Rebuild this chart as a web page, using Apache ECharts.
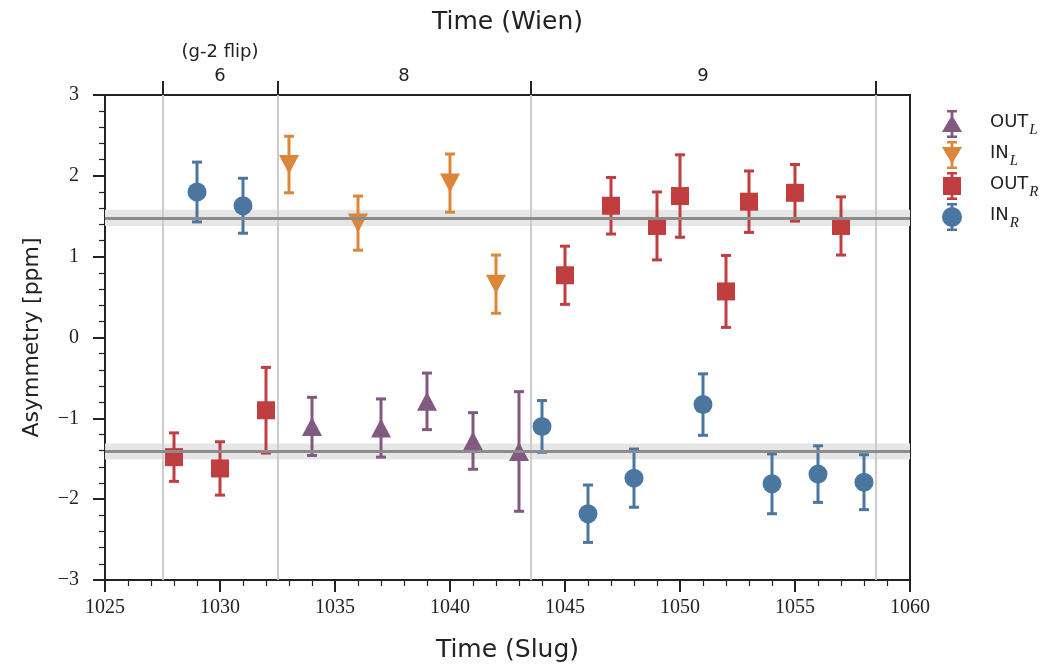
<!DOCTYPE html>
<html>
<head>
<meta charset="utf-8">
<script src="https://cdn.jsdelivr.net/npm/echarts@6/dist/echarts.min.js"></script>
<style>
  html, body { margin: 0; padding: 0; background: #fff; }
  #chart { width: 1057px; height: 669px; }
</style>
</head>
<body>
<div id="chart"></div>
<script>
// run numbers (Slug) and asymmetries in ppm
var outL_x = [1034, 1037, 1039, 1041, 1043];
var outL_y = [-1.10, -1.12, -0.79, -1.28, -1.41];
var outL_err = [0.36, 0.36, 0.35, 0.35, 0.74];

var inL_x = [1033, 1036, 1040, 1042];
var inL_y = [2.14, 1.415, 1.91, 0.66];
var inL_err = [0.35, 0.335, 0.36, 0.36];

var outR_x = [1028, 1030, 1032, 1045, 1047, 1049, 1050, 1052, 1053, 1055, 1057];
var outR_y = [-1.48, -1.62, -0.90, 0.77, 1.63, 1.38, 1.75, 0.57, 1.68, 1.79, 1.38];
var outR_err = [0.30, 0.33, 0.53, 0.36, 0.35, 0.42, 0.51, 0.445, 0.38, 0.35, 0.36];

var inR_x = [1029, 1031, 1044, 1046, 1048, 1051, 1054, 1056, 1058];
var inR_y = [1.80, 1.63, -1.10, -2.18, -1.74, -0.83, -1.81, -1.69, -1.79];
var inR_err = [0.37, 0.34, 0.32, 0.355, 0.36, 0.38, 0.37, 0.35, 0.34];

// fitted means and their bands
var means = [1.48, -1.41];
var meanErr = [0.1, 0.1];

// Wien periods on the top axis
var wienEdges = [1027.5, 1032.5, 1043.5, 1058.5];
var wienCenters = [1030, 1038, 1051];
var wienLabels = ['6', '8', '9'];
var wienNotes = ['(g-2 flip)', '', ''];

var colors = {
    outL: '#82597f',
    inL: '#db8639',
    outR: '#c03e3f',
    inR: '#4a76a0'
};

var serif = 'Liberation Serif';
var sans = 'DejaVu Sans';

function pts(xs, ys) {
    return xs.map(function (x, i) { return [x, ys[i]]; });
}
function bars(xs, ys, es) {
    return xs.map(function (x, i) { return [x, ys[i] - es[i], ys[i] + es[i]]; });
}
function minus(v) {
    return String(v).replace('-', '\u2212');
}

function renderErr(params, api) {
    var x = api.value(0);
    var lo = api.coord([x, api.value(1)]);
    var hi = api.coord([x, api.value(2)]);
    var c = api.visual('color');
    var w = 5;
    var st = { stroke: c, lineWidth: 3 };
    return {
        type: 'group',
        children: [
            { type: 'line', shape: { x1: lo[0], y1: lo[1], x2: hi[0], y2: hi[1] }, style: st },
            { type: 'line', shape: { x1: lo[0] - w, y1: lo[1], x2: lo[0] + w, y2: lo[1] }, style: st },
            { type: 'line', shape: { x1: hi[0] - w, y1: hi[1], x2: hi[0] + w, y2: hi[1] }, style: st }
        ]
    };
}

function errSeries(name, data, color) {
    return {
        name: name,
        type: 'custom',
        renderItem: renderErr,
        data: data,
        itemStyle: { color: color },
        encode: { x: 0, y: [1, 2] },
        z: 3,
        silent: true
    };
}
function markSeries(name, data, color, symbol, size) {
    return {
        name: name,
        type: 'scatter',
        data: data,
        symbol: symbol,
        symbolSize: size,
        itemStyle: { color: color, opacity: 1 },
        z: 4
    };
}

// legend icons: marker with a small error bar through it
var barPath = 'M5,0 H15 V2.5 H5 Z M8.6,0 H11.4 V28 H8.6 Z M5,25.5 H15 V28 H5 Z ';
var icons = {
    'OUT_L': 'path://' + barPath + 'M10,5 L20,22 L0,22 Z',
    'IN_L': 'path://' + barPath + 'M0,6 L20,6 L10,23 Z',
    'OUT_R': 'path://' + barPath + 'M1,5 H19 V23 H1 Z',
    'IN_R': 'path://' + barPath + 'M0,14 A10,10 0 1,1 20,14 A10,10 0 1,1 0,14 Z'
};

var bgLines = [];
wienEdges.forEach(function (v) { bgLines.push({ xAxis: v, lineStyle: { color: '#cccccc', width: 2, type: 'solid' } }); });
means.forEach(function (v) { bgLines.push({ yAxis: v, lineStyle: { color: '#8c8c8c', width: 3, type: 'solid' } }); });

var bgAreas = means.map(function (v, i) {
    return [{ yAxis: v - meanErr[i] }, { yAxis: v + meanErr[i] }];
});

var option = {
    backgroundColor: '#fff',
    animation: false,
    grid: {
        left: 105, right: 147, top: 95, bottom: 89,
        show: true, borderColor: '#222', borderWidth: 2
    },
    legend: {
        orient: 'vertical',
        left: 937,
        top: 105,
        itemWidth: 20,
        itemHeight: 28,
        itemGap: 3,
        data: ['OUT_L', 'IN_L', 'OUT_R', 'IN_R'].map(function (n) {
            return { name: n, icon: icons[n] };
        }),
        formatter: function (name) {
            var p = name.split('_');
            return '{m|' + p[0] + '}{s|' + p[1] + '}';
        },
        textStyle: {
            color: '#222',
            rich: {
                m: { fontFamily: sans, fontSize: 18, padding: [0, 0, 4, 23] },
                s: { fontFamily: serif, fontStyle: 'italic', fontSize: 15, padding: [12, 0, 0, 1] }
            }
        }
    },
    xAxis: [{
        type: 'value',
        position: 'bottom',
        min: 1025, max: 1060, interval: 5,
        name: 'Time (Slug)',
        nameLocation: 'middle',
        nameGap: 58,
        nameTextStyle: { fontFamily: sans, fontSize: 25, color: '#222' },
        axisLine: { show: true, onZero: false, lineStyle: { color: '#222', width: 2 } },
        axisTick: { show: true, length: 12, lineStyle: { color: '#222', width: 2 } },
        minorTick: { show: true, splitNumber: 5, length: 6, lineStyle: { color: '#222', width: 1.2 } },
        axisLabel: {
            margin: 18, fontFamily: serif, fontSize: 20, color: '#222',
            formatter: function (v) { return String(v); }
        },
        splitLine: { show: false }
    }, {
        type: 'value',
        position: 'top',
        min: 1025, max: 1060,
        name: 'Time (Wien)',
        nameLocation: 'middle',
        nameGap: 60,
        nameTextStyle: { fontFamily: sans, fontSize: 25, color: '#222' },
        axisLine: { show: true, onZero: false, lineStyle: { color: '#222', width: 2 } },
        axisTick: { show: true, length: 14, customValues: wienEdges, lineStyle: { color: '#222', width: 2 } },
        axisLabel: {
            margin: 7,
            customValues: wienCenters,
            fontFamily: sans, fontSize: 18, color: '#222', lineHeight: 24,
            formatter: function (v) {
                var i = wienCenters.indexOf(v);
                if (i < 0) return '';
                return wienNotes[i] ? wienNotes[i] + '\n' + wienLabels[i] : wienLabels[i];
            }
        },
        splitLine: { show: false }
    }],
    yAxis: {
        type: 'value',
        min: -3, max: 3, interval: 1,
        name: 'Asymmetry [ppm]',
        nameLocation: 'middle',
        nameGap: 62,
        nameTextStyle: { fontFamily: sans, fontSize: 22, color: '#222' },
        axisLine: { show: true, onZero: false, lineStyle: { color: '#222', width: 2 } },
        axisTick: { show: true, length: 12, lineStyle: { color: '#222', width: 2 } },
        minorTick: { show: true, splitNumber: 5, length: 6, lineStyle: { color: '#222', width: 1.2 } },
        axisLabel: { margin: 26, fontFamily: serif, fontSize: 20, color: '#222', formatter: minus },
        splitLine: { show: false }
    },
    series: [
        {
            name: 'bg',
            type: 'line',
            data: [],
            z: 1,
            silent: true,
            markArea: {
                silent: true,
                itemStyle: { color: '#e6e6e6', opacity: 1 },
                data: bgAreas
            },
            markLine: {
                silent: true,
                symbol: 'none',
                label: { show: false },
                data: bgLines
            }
        },
        errSeries('OUT_L', bars(outL_x, outL_y, outL_err), colors.outL),
        errSeries('IN_L', bars(inL_x, inL_y, inL_err), colors.inL),
        errSeries('OUT_R', bars(outR_x, outR_y, outR_err), colors.outR),
        errSeries('IN_R', bars(inR_x, inR_y, inR_err), colors.inR),
        markSeries('OUT_L', pts(outL_x, outL_y), colors.outL, 'triangle', [20, 19]),
        markSeries('IN_L', pts(inL_x, inL_y), colors.inL, 'path://M0,0 L20,0 L10,20 Z', [20, 19]),
        markSeries('OUT_R', pts(outR_x, outR_y), colors.outR, 'rect', [18, 18]),
        markSeries('IN_R', pts(inR_x, inR_y), colors.inR, 'circle', [19, 19])
    ]
};

var myChart = echarts.init(document.getElementById('chart'));
myChart.setOption(option);
</script>
</body>
</html>
